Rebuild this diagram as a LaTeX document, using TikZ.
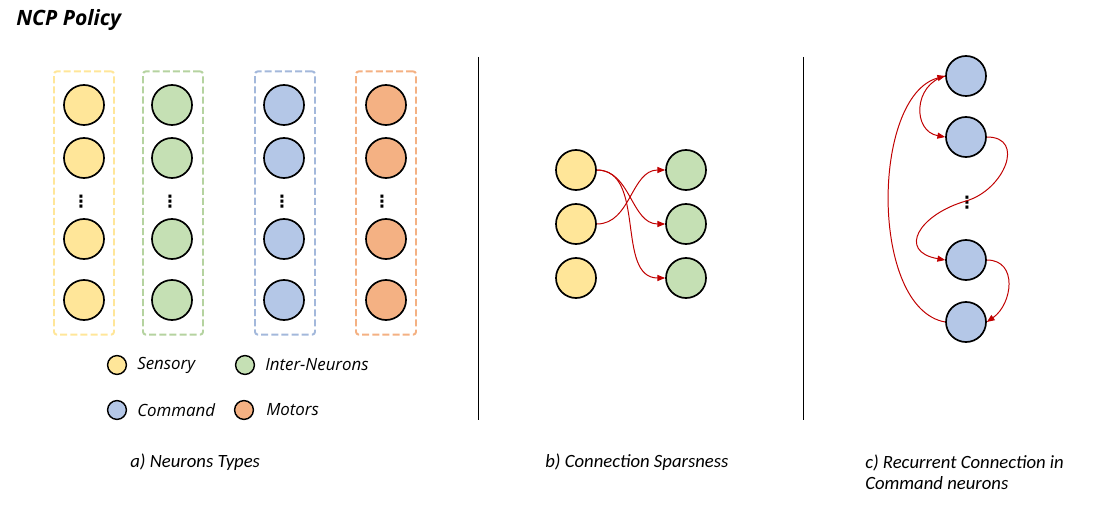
\documentclass[tikz,border=0pt]{standalone}
\usepackage{fontspec}
\setmainfont{Open Sans}
\newfontfamily\capfont{Carlito}
\newfontfamily\symfont{DejaVu Sans}
\usetikzlibrary{arrows.meta,positioning}
\definecolor{sensory}{HTML}{FFE699}
\definecolor{inter}{HTML}{C5E0B4}
\definecolor{command}{HTML}{B4C7E7}
\definecolor{motor}{HTML}{F4B183}
\definecolor{interedge}{HTML}{B5D3A0}
\definecolor{commandedge}{HTML}{A3B8DB}
\definecolor{synred}{HTML}{C00000}

\begin{document}
\begin{tikzpicture}[x=0.025cm, y=0.025cm,
  neuron/.style={circle, draw=black, line width=1.2pt, fill=#1, minimum size=1cm, inner sep=0pt},
  key/.style={circle, draw=black, line width=1pt, fill=#1, minimum size=0.47cm, inner sep=0pt},
  typebox/.style={rectangle, draw=#1, line width=1.4pt, dash pattern=on 5pt off 2.2pt, rounded corners=2pt, minimum width=1.5cm, minimum height=6.58cm},
  keytext/.style={font=\fontsize{12}{14}\selectfont\itshape, anchor=west, inner sep=0pt},
  subcap/.style={font=\capfont\fontsize{13.3}{15}\selectfont\itshape, anchor=west, align=left, inner sep=0pt},
  more/.style={font=\symfont\bfseries\fontsize{12}{12}\selectfont, inner sep=0pt},
  wire/.style={draw=synred, line width=0.7pt, -{Triangle[length=5.5pt, width=4.3pt]}}
]
  \useasboundingbox (0,0) rectangle (1112,508);
  \node[font=\fontsize{15}{18}\selectfont\bfseries\itshape, anchor=west, inner sep=0pt] (title) at (16,488) {NCP Policy};

  % a) neuron types
  \node[typebox=sensory] (sbox) at (84,305) {};
  \node[typebox=interedge] (ibox) at (173,305) {};
  \node[typebox=commandedge] (cbox) at (285,305) {};
  \node[typebox=motor] (mbox) at (386,305) {};
  % sensory
  \node[neuron=sensory] (s1) at (84,403) {};
  \node[neuron=sensory] (s2) at (84,350) {};
  \node[more] (sdots) at (81,306) {⋮};
  \node[neuron=sensory] (s3) at (84,269) {};
  \node[neuron=sensory] (s4) at (84,208) {};
  % inter-neurons
  \node[neuron=inter] (i1) at (172,403) {};
  \node[neuron=inter] (i2) at (172,350) {};
  \node[more] (idots) at (170,306) {⋮};
  \node[neuron=inter] (i3) at (172,269) {};
  \node[neuron=inter] (i4) at (172,208) {};
  % command
  \node[neuron=command] (k1) at (284,403) {};
  \node[neuron=command] (k2) at (284,350) {};
  \node[more] (kdots) at (282,306) {⋮};
  \node[neuron=command] (k3) at (284,269) {};
  \node[neuron=command] (k4) at (284,208) {};
  % motors
  \node[neuron=motor] (m1) at (386,403) {};
  \node[neuron=motor] (m2) at (386,350) {};
  \node[more] (mdots) at (382,306) {⋮};
  \node[neuron=motor] (m3) at (386,269) {};
  \node[neuron=motor] (m4) at (386,208) {};
  % legend
  \node[key=sensory] (ks) at (117,143) {};
  \node[keytext] at (137,143) {Sensory};
  \node[key=inter] (ki) at (245,143) {};
  \node[keytext] at (265,143) {Inter-Neurons};
  \node[key=command] (kc) at (117,98) {};
  \node[keytext] at (137,98) {Command};
  \node[key=motor] (km) at (244,98) {};
  \node[keytext] at (266,98) {Motors};

  % separators
  \draw[line width=0.7pt] (478,451) -- (478,88);
  \draw[line width=0.7pt] (803,451) -- (803,88);

  % b) connection sparsness
  \node[neuron=sensory] (y1) at (576,338) {};
  \node[neuron=sensory] (y2) at (576,284) {};
  \node[neuron=sensory] (y3) at (576,230) {};
  \node[neuron=inter] (g1) at (686,338) {};
  \node[neuron=inter] (g2) at (686,284) {};
  \node[neuron=inter] (g3) at (686,230) {};
  \draw[wire] (y1.east) to[out=0, in=180] (g2.west);
  \draw[wire] (y1.east) to[out=0, in=180] (g3.west);
  \draw[wire] (y2.east) to[out=0, in=180] (g1.west);

  % c) recurrent command neurons
  \node[neuron=command] (c1) at (966,432) {};
  \node[neuron=command] (c2) at (966,371) {};
  \node[more] (cdots) at (967,305) {⋮};
  \node[neuron=command] (c3) at (966,248) {};
  \node[neuron=command] (c4) at (966,186) {};
  \coordinate (cmid) at (966,307);
  \draw[wire] (c4.west) to[out=170, in=195, looseness=0.8] (c1.west);
  \draw[wire] (c1.west) to[out=195, in=170, looseness=1.4] (c2.west);
  \draw[wire] (c2.east) to[out=0, in=16, looseness=1.5] (cmid) to[out=196, in=170, looseness=2] (c3.west);
  \draw[wire] (c3.east) to[out=0, in=35, looseness=1.3] (c4.east);

  % captions
  \node[subcap] (capa) at (130,46) {a) Neurons Types};
  \node[subcap] (capb) at (545,46) {b) Connection Sparsness};
  \node[subcap] (capc) at (865,36) {c) Recurrent Connection in\\Command neurons};
\end{tikzpicture}
\end{document}
